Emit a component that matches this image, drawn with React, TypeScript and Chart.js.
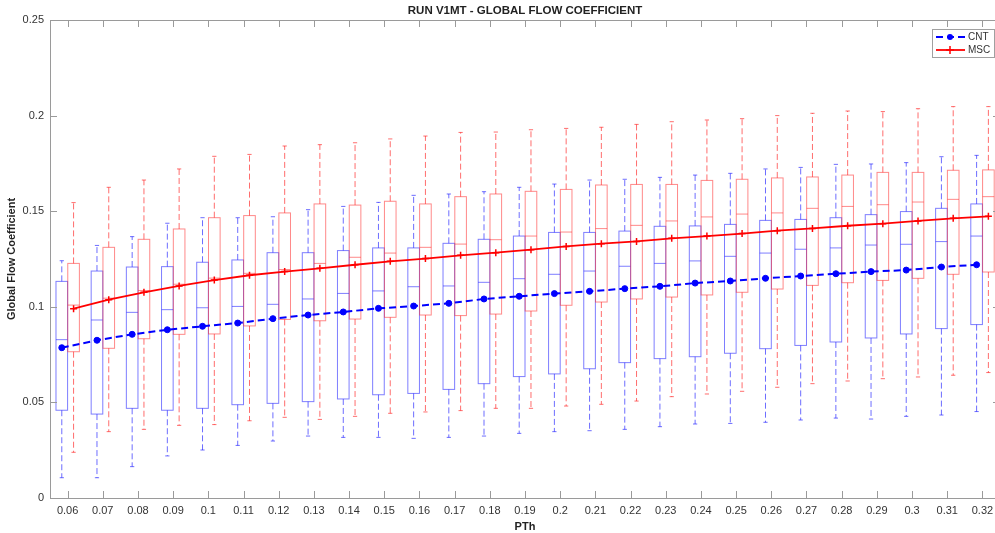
import React, { useEffect, useRef } from 'react';
import { Chart, registerables } from 'chart.js';

Chart.register(...registerables);

const categories = ['0.06', '0.07', '0.08', '0.09', '0.1', '0.11', '0.12', '0.13', '0.14', '0.15', '0.16', '0.17', '0.18', '0.19', '0.2', '0.21', '0.22', '0.23', '0.24', '0.25', '0.26', '0.27', '0.28', '0.29', '0.3', '0.31', '0.32'];
const yTicks = [0, 0.05, 0.1, 0.15, 0.2, 0.25];

const cntHigh = [0.1241, 0.1321, 0.1367, 0.1437, 0.1466, 0.1466, 0.1471, 0.1508, 0.1525, 0.1546, 0.1583, 0.159, 0.1602, 0.1625, 0.1642, 0.1663, 0.1667, 0.1677, 0.1689, 0.1698, 0.1721, 0.1729, 0.1745, 0.1747, 0.1754, 0.1785, 0.1792];
const cntQ3 = [0.1133, 0.1187, 0.1208, 0.121, 0.1233, 0.1245, 0.1283, 0.1283, 0.1294, 0.1308, 0.1308, 0.1332, 0.1353, 0.137, 0.1389, 0.1389, 0.1396, 0.1421, 0.1423, 0.1431, 0.1452, 0.1457, 0.1466, 0.1482, 0.1498, 0.1515, 0.1538];
const cntMedian = [0.0828, 0.0931, 0.0971, 0.0985, 0.0995, 0.1002, 0.1013, 0.1041, 0.107, 0.1083, 0.1105, 0.1109, 0.1128, 0.1147, 0.117, 0.1187, 0.1212, 0.1227, 0.124, 0.1264, 0.1281, 0.1301, 0.1308, 0.1323, 0.1327, 0.1341, 0.137];
const cntQ1 = [0.0459, 0.0439, 0.0469, 0.0459, 0.0469, 0.0488, 0.0495, 0.0504, 0.0518, 0.054, 0.0547, 0.0568, 0.0598, 0.0635, 0.0649, 0.0676, 0.0708, 0.0729, 0.0739, 0.0757, 0.0781, 0.0798, 0.0816, 0.0837, 0.0858, 0.0886, 0.0907];
const cntLow = [0.0106, 0.0106, 0.0164, 0.022, 0.0251, 0.0275, 0.0298, 0.0324, 0.0317, 0.0317, 0.0312, 0.0317, 0.0324, 0.0338, 0.0347, 0.0352, 0.0359, 0.0373, 0.0387, 0.039, 0.0396, 0.0408, 0.0418, 0.0413, 0.0427, 0.0434, 0.0452];
const cntMean = [0.0786, 0.0825, 0.0856, 0.088, 0.0898, 0.0915, 0.0938, 0.0957, 0.0973, 0.0992, 0.1004, 0.1018, 0.1041, 0.1055, 0.1069, 0.1081, 0.1095, 0.1107, 0.1124, 0.1135, 0.1149, 0.1161, 0.1173, 0.1184, 0.1192, 0.1208, 0.122];

const mscHigh = [0.1545, 0.1625, 0.1663, 0.1721, 0.1787, 0.1797, 0.1841, 0.1848, 0.1858, 0.1878, 0.1893, 0.1912, 0.1914, 0.1926, 0.1933, 0.1939, 0.1954, 0.1968, 0.1977, 0.1984, 0.2, 0.2012, 0.2024, 0.2021, 0.2036, 0.2047, 0.2047];
const mscQ3 = [0.1227, 0.1311, 0.1353, 0.1407, 0.1466, 0.1477, 0.1491, 0.1538, 0.1532, 0.1552, 0.1538, 0.1576, 0.159, 0.1604, 0.1614, 0.1637, 0.164, 0.164, 0.1661, 0.1667, 0.1674, 0.1679, 0.1689, 0.1703, 0.1703, 0.1714, 0.1716];
const mscMedian = [0.1009, 0.1045, 0.1085, 0.1118, 0.115, 0.1175, 0.1195, 0.1227, 0.1259, 0.1281, 0.1311, 0.1328, 0.1351, 0.137, 0.1391, 0.1409, 0.1426, 0.1449, 0.147, 0.1485, 0.1491, 0.1515, 0.1525, 0.1534, 0.1548, 0.1562, 0.1576];
const mscQ1 = [0.0765, 0.0783, 0.0833, 0.0856, 0.0858, 0.09, 0.0934, 0.0927, 0.0936, 0.0945, 0.0957, 0.0954, 0.0962, 0.0978, 0.1008, 0.1025, 0.1041, 0.1051, 0.1062, 0.1076, 0.1093, 0.1112, 0.1126, 0.1138, 0.1149, 0.117, 0.1182];
const mscLow = [0.0239, 0.0347, 0.0359, 0.038, 0.0384, 0.0404, 0.0422, 0.0411, 0.0427, 0.0443, 0.045, 0.0457, 0.0469, 0.0469, 0.0481, 0.049, 0.0507, 0.053, 0.0544, 0.0558, 0.0579, 0.0598, 0.0612, 0.0624, 0.0633, 0.0642, 0.0656];
const mscMean = [0.099, 0.1037, 0.1076, 0.1109, 0.114, 0.1165, 0.1184, 0.1201, 0.122, 0.1238, 0.1252, 0.1269, 0.1283, 0.1299, 0.1316, 0.133, 0.1342, 0.1358, 0.137, 0.1383, 0.1398, 0.141, 0.1424, 0.1435, 0.1449, 0.1463, 0.1473];

const CNT_OFFSET = -0.165;
const MSC_OFFSET = 0.17;
const BOX_W = 0.33;
const CAP_W = 0.12;
const FONT = "'Liberation Sans', Arial, Helvetica, sans-serif";
const AXIS_COLOR = '#9a9a9a';
const TEXT_COLOR = '#333333';

const boxPlugin = {
  id: 'boxPlots',
  beforeDatasetsDraw(chart: any) {
    const { ctx, scales, chartArea } = chart;
    const x = scales.x;
    const y = scales.y;
    const groups = [
      { off: CNT_OFFSET, box: 'rgba(40,40,255,0.6)', whisk: 'rgba(30,30,255,0.65)', low: cntLow, q1: cntQ1, med: cntMedian, q3: cntQ3, high: cntHigh },
      { off: MSC_OFFSET, box: 'rgba(255,40,40,0.55)', whisk: 'rgba(255,30,30,0.65)', low: mscLow, q1: mscQ1, med: mscMedian, q3: mscQ3, high: mscHigh },
    ];
    ctx.save();
    ctx.beginPath();
    ctx.rect(chartArea.left, chartArea.top, chartArea.right - chartArea.left, chartArea.bottom - chartArea.top);
    ctx.clip();
    ctx.lineWidth = 1;
    for (const g of groups) {
      for (let i = 0; i < categories.length; i++) {
        const c = i + 1 + g.off;
        const xl = x.getPixelForValue(c - BOX_W / 2);
        const xr = x.getPixelForValue(c + BOX_W / 2);
        const xc = x.getPixelForValue(c);
        const cl = x.getPixelForValue(c - CAP_W / 2);
        const cr = x.getPixelForValue(c + CAP_W / 2);
        const yHigh = y.getPixelForValue(g.high[i]);
        const yQ3 = y.getPixelForValue(g.q3[i]);
        const yMed = y.getPixelForValue(g.med[i]);
        const yQ1 = y.getPixelForValue(g.q1[i]);
        const yLow = y.getPixelForValue(g.low[i]);
        ctx.strokeStyle = g.whisk;
        ctx.setLineDash([6, 3]);
        ctx.beginPath();
        ctx.moveTo(xc, yQ3);
        ctx.lineTo(xc, yHigh);
        ctx.moveTo(xc, yQ1);
        ctx.lineTo(xc, yLow);
        ctx.stroke();
        ctx.setLineDash([]);
        ctx.beginPath();
        ctx.moveTo(cl, yHigh);
        ctx.lineTo(cr, yHigh);
        ctx.moveTo(cl, yLow);
        ctx.lineTo(cr, yLow);
        ctx.stroke();
        ctx.strokeStyle = g.box;
        ctx.strokeRect(xl, yQ3, xr - xl, yQ1 - yQ3);
        ctx.beginPath();
        ctx.moveTo(xl, yMed);
        ctx.lineTo(xr, yMed);
        ctx.stroke();
      }
    }
    ctx.restore();
  },
  afterDraw(chart: any) {
    const { ctx, scales, chartArea } = chart;
    const x = scales.x;
    const y = scales.y;
    const { left, right, top, bottom } = chartArea;
    ctx.save();
    ctx.strokeStyle = AXIS_COLOR;
    ctx.lineWidth = 1;
    ctx.setLineDash([]);
    ctx.strokeRect(Math.round(left) + 0.5, Math.round(top) + 0.5, Math.round(right - left), Math.round(bottom - top));
    const TL = 7;
    ctx.beginPath();
    for (let i = 0; i < categories.length; i++) {
      const px = Math.round(x.getPixelForValue(i + 1)) + 0.5;
      ctx.moveTo(px, bottom);
      ctx.lineTo(px, bottom - TL);
      ctx.moveTo(px, top);
      ctx.lineTo(px, top + TL);
    }
    for (const v of yTicks) {
      const py = Math.round(y.getPixelForValue(v)) + 0.5;
      ctx.moveTo(left, py);
      ctx.lineTo(left + TL, py);
      ctx.moveTo(right, py);
      ctx.lineTo(right - TL, py);
    }
    ctx.stroke();

    ctx.fillStyle = '#222222';
    ctx.font = `bold 11.5px ${FONT}`;
    ctx.textAlign = 'center';
    ctx.textBaseline = 'middle';
    ctx.fillText('RUN V1MT - GLOBAL FLOW COEFFICIENT', (left + right) / 2, 11);

    const lx = 932, ly = 29, lw = 62, lh = 28;
    ctx.fillStyle = '#ffffff';
    ctx.fillRect(lx, ly, lw, lh);
    ctx.strokeStyle = '#a0a0a0';
    ctx.strokeRect(lx + 0.5, ly + 0.5, lw, lh);
    const ds = chart.data.datasets;
    const rows = [ly + 8, ly + 21];
    ds.forEach((d: any, k: number) => {
      const ry = rows[k];
      ctx.strokeStyle = d.borderColor;
      ctx.lineWidth = d.borderWidth;
      ctx.setLineDash(d.borderDash || []);
      ctx.beginPath();
      ctx.moveTo(lx + 4, ry);
      ctx.lineTo(lx + 33, ry);
      ctx.stroke();
      ctx.setLineDash([]);
      const mx = lx + 18;
      if (d.pointStyle === 'circle') {
        ctx.fillStyle = d.backgroundColor;
        ctx.beginPath();
        ctx.arc(mx, ry, 3, 0, Math.PI * 2);
        ctx.fill();
      } else {
        ctx.lineWidth = 1.5;
        ctx.beginPath();
        ctx.moveTo(mx - 4, ry);
        ctx.lineTo(mx + 4, ry);
        ctx.moveTo(mx, ry - 4);
        ctx.lineTo(mx, ry + 4);
        ctx.stroke();
      }
      ctx.fillStyle = TEXT_COLOR;
      ctx.font = `10px ${FONT}`;
      ctx.textAlign = 'left';
      ctx.textBaseline = 'middle';
      ctx.fillText(d.label, lx + 36, ry + 0.5);
    });
    ctx.restore();
  },
};

export default function App() {
  const ref = useRef<HTMLCanvasElement | null>(null);
  useEffect(() => {
    if (!ref.current) return;
    const chart = new Chart(ref.current, {
      type: 'line',
      data: {
        datasets: [
          {
            label: 'CNT',
            data: cntMean.map((v, i) => ({ x: i + 1 + CNT_OFFSET, y: v })),
            borderColor: '#0000ff',
            backgroundColor: '#0000ff',
            borderDash: [7, 4],
            borderWidth: 2,
            pointStyle: 'circle',
            pointRadius: 3,
            pointBorderWidth: 1,
            tension: 0,
          },
          {
            label: 'MSC',
            data: mscMean.map((v, i) => ({ x: i + 1 + MSC_OFFSET, y: v })),
            borderColor: '#ff0000',
            backgroundColor: '#ff0000',
            borderWidth: 1.8,
            pointStyle: 'cross',
            pointRadius: 3.5,
            pointBorderWidth: 1.5,
            tension: 0,
          },
        ],
      } as any,
      options: {
        animation: false,
        responsive: false,
        maintainAspectRatio: false,
        layout: { padding: { top: 20, right: 10, left: 0, bottom: 0 } },
        plugins: { legend: { display: false }, tooltip: { enabled: false }, title: { display: false } },
        scales: {
          x: {
            type: 'linear',
            min: 0.5,
            max: 27.5,
            grid: { display: false, drawTicks: false },
            border: { display: false },
            afterBuildTicks: (s: any) => {
              s.ticks = categories.map((_, i) => ({ value: i + 1 }));
            },
            afterFit: (s: any) => {
              s.height = 35;
            },
            ticks: {
              autoSkip: false,
              maxRotation: 0,
              minRotation: 0,
              padding: 6,
              color: TEXT_COLOR,
              font: { size: 11, family: FONT },
              callback: (v: any) => categories[Math.round(Number(v)) - 1] ?? '',
            },
            title: {
              display: true,
              text: 'PTh',
              color: '#222222',
              font: { size: 11, weight: 'bold', family: FONT },
              padding: { top: 0, bottom: -1 },
            },
          },
          y: {
            type: 'linear',
            min: 0,
            max: 0.25,
            grid: { display: false, drawTicks: false },
            border: { display: false },
            afterBuildTicks: (s: any) => {
              s.ticks = yTicks.map((v) => ({ value: v }));
            },
            afterFit: (s: any) => {
              s.width = 50;
            },
            ticks: {
              padding: 6,
              color: TEXT_COLOR,
              font: { size: 11, family: FONT },
              callback: (v: any) => String(Number(Number(v).toFixed(2))),
            },
            title: {
              display: true,
              text: 'Global Flow Coefficient',
              color: '#222222',
              font: { size: 11, weight: 'bold', family: FONT },
              padding: { top: 5, bottom: 0 },
            },
          },
        },
      } as any,
      plugins: [boxPlugin],
    });
    return () => chart.destroy();
  }, []);

  return (
    <div style={{ position: 'fixed', left: 0, top: 0, width: 995, height: 533, overflow: 'hidden', background: '#ffffff' }}>
      <canvas ref={ref} width={1010} height={533} style={{ width: 1010, height: 533, display: 'block' }} />
    </div>
  );
}
